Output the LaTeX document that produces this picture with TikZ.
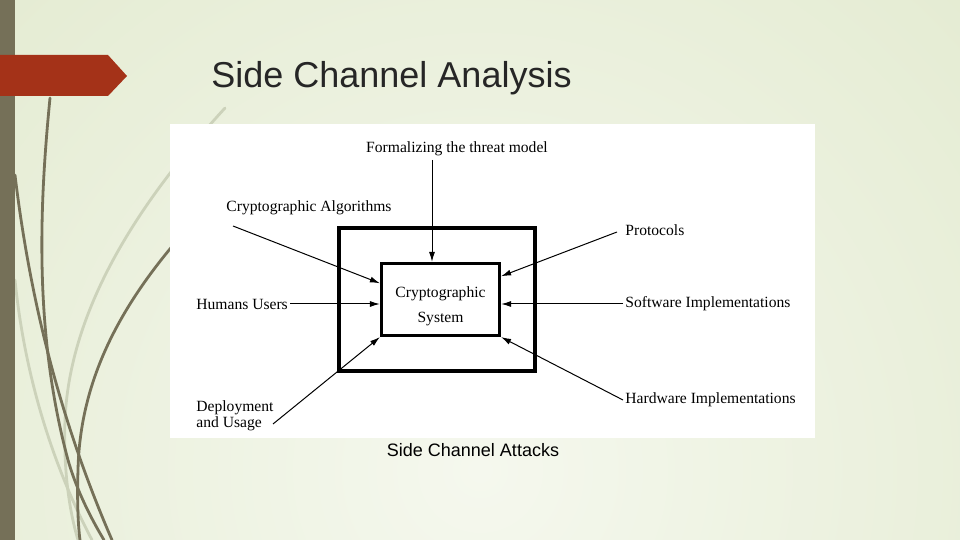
\documentclass[tikz,border=0pt]{standalone}
\usepackage{fontspec}
\setmainfont{Liberation Serif}
\newfontfamily\slidefont{Liberation Sans}
\usetikzlibrary{arrows.meta}

\definecolor{bgin}{RGB}{245,248,238}
\definecolor{bgout}{RGB}{221,230,198}
\definecolor{barbrown}{RGB}{117,112,88}
\definecolor{tabred}{RGB}{164,50,24}
\definecolor{grasslight}{RGB}{204,210,186}
\definecolor{titlegray}{RGB}{38,38,38}

\begin{document}
\begin{tikzpicture}[x=0.5pt,y=-0.5pt,
	lbl/.style={inner sep=1pt,font=\fontsize{7.8}{8}\selectfont},
	blade/.style={barbrown,line width=1.4pt,line cap=round},
	ghost/.style={grasslight,line width=1.4pt,line cap=round},
	>={Latex[length=5pt,width=3pt]}]
	\useasboundingbox (0,0) rectangle (960,540);
	
	%BACKGROUND
	\begin{scope}
		\clip (0,0) rectangle (960,540);
		\shade[inner color=bgin,outer color=bgout] (480,470) circle (1000);
	\end{scope}
	%grass
	\draw[ghost] (225,108) .. controls (150,190) and (70,300) .. (65,420) .. controls (63,480) and (72,520) .. (78,540);
	\draw[ghost] (15,280) .. controls (25,380) and (55,470) .. (92,540);
	\draw[blade] (50,98) .. controls (40,200) and (33,330) .. (68,460) .. controls (78,495) and (95,525) .. (104,540);
	\draw[blade] (15,175) .. controls (30,300) and (60,420) .. (112,540);
	\draw[blade] (200,215) .. controls (120,300) and (80,380) .. (78,470) .. controls (77,500) and (78,525) .. (80,540);
	%bar and tab
	\fill[barbrown] (0,0) rectangle (15,540);
	\fill[tabred] (0,55)--(108,55)--(127,76)--(108,96)--(0,96)--cycle;
	
	%TITLE
	\node[anchor=west,inner sep=0,text=titlegray,font=\slidefont\fontsize{18}{20}\selectfont] (title) at (211,78) {Side Channel Analysis};
	
	%PANEL
	\fill[white] (170,124) rectangle (815,438);
	\node[draw,line width=2pt,minimum width=98pt,minimum height=71.5pt] (outer) at (437,299.5) {};
	\node[draw,fill=white,line width=1.6pt,minimum width=59pt,minimum height=36pt] (sys) at (440.5,299.5) {};
	\node[align=center,inner sep=0,font=\fontsize{7.8}{12.5}\selectfont] (systext) at ([yshift=-3.5pt]sys.center) {Cryptographic\\System};
	
	%labels
	\node[lbl] (form) at (457,149) {Formalizing the threat model};
	\node[lbl] (alg) at (309,208) {Cryptographic Algorithms};
	\node[lbl,anchor=west] (prot) at (623,230) {Protocols};
	\node[lbl,anchor=west] (hum) at (194,304) {Humans Users};
	\node[lbl,anchor=west] (soft) at (623,304) {Software Implementations};
	\node[lbl,anchor=west,align=left] (dep) at (194,416) {Deployment\\and Usage};
	\node[lbl,anchor=west] (hard) at (623,400) {Hardware Implementations};
	
	%arrows
	\coordinate (formtail) at (432,160);
	\coordinate (algtail) at (233,226);
	\coordinate (prottail) at (617,232);
	\coordinate (deptail) at (273,424);
	\draw[->,line width=0.5pt] (formtail)--(formtail |- sys.north);
	\draw[->,line width=0.5pt] (algtail)--(sys.165);
	\draw[->,line width=0.5pt] (prottail)--(sys.21);
	\draw[->,line width=0.5pt] (hum.east)--(hum.east -| sys.west);
	\draw[->,line width=0.5pt] (soft.west)--(soft.west -| sys.east);
	\draw[->,line width=0.5pt] (deptail)--(sys.south west);
	\draw[->,line width=0.5pt] (hard.west)--(sys.south east);
	
	%CAPTION
	\node[inner sep=0,text=black,font=\slidefont\fontsize{9}{10}\selectfont] (cap) at (473,450) {Side Channel Attacks};
\end{tikzpicture}
\end{document}
